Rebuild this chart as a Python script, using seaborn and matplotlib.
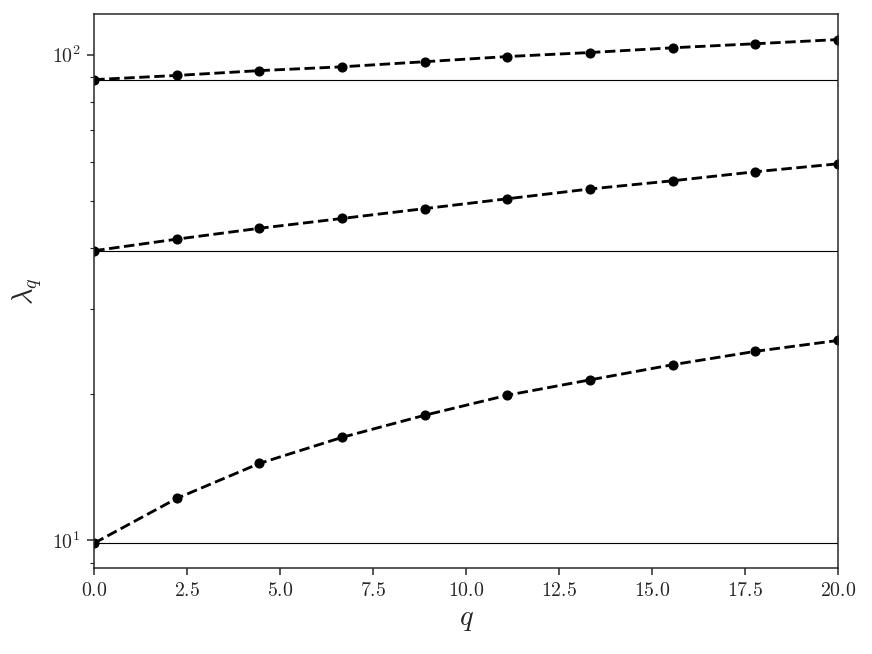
import pandas as pd
import numpy as np
import matplotlib
matplotlib.use("Agg")
import matplotlib.pyplot as plt
import seaborn as sns

# data
q = [0.0, 2.22, 4.44, 6.67, 8.89, 11.11, 13.33, 15.56, 17.78, 20.0]
lam1 = [9.87, 12.2, 14.4, 16.3, 18.1, 19.9, 21.4, 23.0, 24.5, 25.8]
lam2 = [39.48, 41.7, 43.9, 46.0, 48.2, 50.5, 52.9, 55.0, 57.4, 59.6]
lam3 = [88.83, 90.6, 92.7, 94.4, 96.7, 99.1, 101.0, 103.3, 105.3, 107.4]
levels = [9.87, 39.48, 88.83]

sns.set_style("ticks")
plt.rcParams['font.family'] = 'serif'
plt.rcParams['font.serif'] = ['cmr10', 'DejaVu Serif']
plt.rcParams['mathtext.fontset'] = 'cm'
plt.rcParams['axes.formatter.use_mathtext'] = True

df = pd.DataFrame({"q": q * 3,
                   "lam": lam1 + lam2 + lam3,
                   "mode": ["1"] * 10 + ["2"] * 10 + ["3"] * 10})

fig, ax = plt.subplots(figsize=(6.4, 4.8), dpi=136.25)
for m in ["1", "2", "3"]:
    sub = df[df["mode"] == m]
    sns.lineplot(data=sub, x="q", y="lam", ax=ax, color="black",
                 linestyle="--", marker="o", markersize=4.6,
                 markeredgecolor="black", linewidth=1.5)
for v in levels:
    ax.axhline(v, color="black", linewidth=0.6)

ax.set_yscale("log")
ax.set_xlim(0, 20)
ax.set_xlabel("$q$", fontsize=15)
ax.set_ylabel(r"$\lambda_q$", fontsize=15)
ax.tick_params(labelsize=10.5)
for s in ax.spines.values():
    s.set_visible(True)
plt.subplots_adjust(left=0.108, right=0.961, top=0.978, bottom=0.126 + 0.005)
plt.savefig("out.png", dpi=136.25)
